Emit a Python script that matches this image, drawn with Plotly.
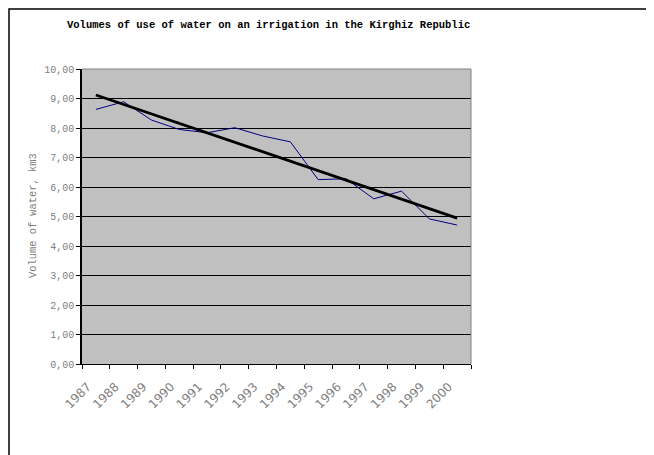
import numpy as np
import plotly.graph_objects as go

years = ["1987", "1988", "1989", "1990", "1991", "1992", "1993",
         "1994", "1995", "1996", "1997", "1998", "1999", "2000"]
volume = [8.63, 8.89, 8.27, 7.95, 7.84, 8.01, 7.73,
          7.53, 6.25, 6.28, 5.60, 5.86, 4.92, 4.71]
y_ticks = [0, 1, 2, 3, 4, 5, 6, 7, 8, 9, 10]

title_text = "Volumes of use of water on an irrigation in the Kirghiz Republic"
y_title = "Volume of water, km3"

# page body adds an 8px offset; figure coordinates = reference coordinates - 8
OFF = 8
W, H = 654 - OFF, 455 - OFF
L, T = 74, 61
pw, ph = 389, 295
R, B = W - L - pw, H - T - ph

xs = np.arange(len(years))
slope, intercept = np.polyfit(xs, volume, 1)
trend = slope * xs + intercept

fig = go.Figure()
fig.add_trace(go.Scatter(x=xs, y=volume, mode="lines",
                         line=dict(color="#000080", width=1), hoverinfo="skip"))
fig.add_trace(go.Scatter(x=[xs[0], xs[-1]], y=[trend[0], trend[-1]], mode="lines",
                         line=dict(color="#000000", width=2.8), hoverinfo="skip"))

def px_x(p):
    return (p - OFF - L) / pw

def px_y(p):
    return (H - B - (p - OFF)) / ph

MONO = "Liberation Mono"

shapes = [
    dict(type="line", xref="paper", yref="paper", x0=0, x1=1, y0=1, y1=1,
         line=dict(color="#808080", width=1), layer="above"),
    dict(type="line", xref="paper", yref="paper", x0=1, x1=1, y0=0, y1=1,
         line=dict(color="#808080", width=1), layer="above"),
    dict(type="rect", xref="paper", yref="paper",
         x0=px_x(OFF + 1), x1=px_x(W + 40), y0=px_y(OFF + 1), y1=px_y(H + 40),
         line=dict(color="#000000", width=1.5), layer="above"),
]

fig.update_layout(
    width=W, height=H,
    margin=dict(l=L, r=R, t=T, b=B),
    paper_bgcolor="white",
    plot_bgcolor="#C0C0C0",
    showlegend=False,
    separators=",.",
    shapes=shapes,
    annotations=[
        dict(text=title_text, xref="paper", yref="paper",
             x=px_x(268), y=px_y(25), xanchor="center", yanchor="middle",
             showarrow=False,
             font=dict(family=MONO, size=10.5, color="#000000", weight="bold")),
        dict(text=y_title, xref="paper", yref="paper",
             x=px_x(33), y=px_y(216), xanchor="center", yanchor="middle",
             textangle=-90, showarrow=False,
             font=dict(family=MONO, size=10.4, color="#808080")),
    ],
    xaxis=dict(
        range=[-0.5, len(years) - 0.5],
        tickmode="array", tickvals=list(xs - 0.3), ticktext=years,
        ticks="", tickangle=-45, ticklabelstandoff=10,
        tickfont=dict(family="DejaVu Sans", size=12, color="#808080"),
        showgrid=False, zeroline=False,
        showline=True, linecolor="#000000", linewidth=1,
        minor=dict(tickmode="linear", tick0=-0.5, dtick=1, ticks="outside",
                   ticklen=4, tickcolor="#000000", tickwidth=1, showgrid=False),
        fixedrange=True,
    ),
    yaxis=dict(
        range=[0, 10],
        tickmode="array", tickvals=y_ticks, tickformat=".2f",
        ticks="outside", ticklen=4, tickcolor="#000000",
        tickfont=dict(family=MONO, size=10, color="#808080"),
        showgrid=True, gridcolor="#000000", gridwidth=1,
        zeroline=False,
        showline=True, linecolor="#000000", linewidth=1.5,
        fixedrange=True,
    ),
)

fig.write_html("out.html")
